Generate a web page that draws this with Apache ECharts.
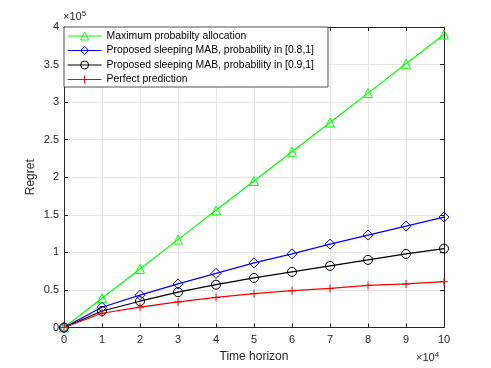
<!DOCTYPE html>
<html><head><meta charset="utf-8">
<script src="https://cdn.jsdelivr.net/npm/echarts@6/dist/echarts.min.js"></script>
<style>html,body{margin:0;padding:0;background:#fff}#c{width:491px;height:368px}</style>
</head><body><div id="c"></div>
<script>
const xValues = [0,1,2,3,4,5,6,7,8,9,10];
const seriesNames = ['Maximum probabilty allocation','Proposed sleeping MAB, probability in [0.8,1]','Proposed sleeping MAB, probability in [0.9,1]','Perfect prediction'];
const maxProb   = [0,0.39,0.78,1.17,1.56,1.95,2.34,2.73,3.12,3.51,3.90];
const mab08     = [0,0.27,0.43,0.58,0.72,0.86,0.98,1.11,1.23,1.35,1.47];
const mab09     = [0,0.22,0.35,0.47,0.57,0.66,0.74,0.82,0.90,0.98,1.05];
const perfect   = [0,0.19,0.27,0.34,0.40,0.45,0.49,0.52,0.56,0.58,0.61];
const yTicks = [0,0.5,1,1.5,2,2.5,3,3.5,4];

const L=64, T=27, W=380, H=300.5;
const axisColor='#262626';
const font='"Liberation Sans", Arial, sans-serif';
function pairs(arr){return xValues.map((x,i)=>[x,arr[i]]);}
function mk(name,data,color,symbol,size){
  return {name,type:'line',data:pairs(data),symbol,symbolSize:size,
    lineStyle:{color,width:1.2},itemStyle:{color:'rgba(255,255,255,0)',borderColor:color,borderWidth:1},
    emphasis:{disabled:true},animation:false,z:3};
}
const chart=echarts.init(document.getElementById('c'),null,{renderer:'canvas'});
const fmtY=v=>{return String(v);};
chart.setOption({
  animation:false,
  backgroundColor:'#fff',
  grid:{left:L,top:T,width:W,height:H,show:false},
  xAxis:[{type:'value',min:0,max:10,interval:1,position:'bottom',
    axisLine:{onZero:false,lineStyle:{color:axisColor,width:1}},
    axisTick:{inside:true,length:4,lineStyle:{color:axisColor}},
    axisLabel:{margin:7,color:axisColor,fontSize:11,fontFamily:font},
    splitLine:{show:true,lineStyle:{color:'#e6e6e6',width:1}},
    name:'Time horizon',nameLocation:'middle',nameGap:23,nameMoveOverlap:false,
    nameTextStyle:{color:axisColor,fontSize:12,fontFamily:font}},
   {type:'value',min:0,max:10,interval:1,position:'top',
    axisLine:{onZero:false,lineStyle:{color:axisColor,width:1}},
    axisTick:{inside:true,length:4,lineStyle:{color:axisColor}},
    axisLabel:{show:false},splitLine:{show:false}}],
  yAxis:[{type:'value',min:0,max:4,interval:0.5,position:'left',
    axisLine:{show:true,onZero:false,lineStyle:{color:axisColor,width:1}},
    axisTick:{show:true,inside:true,length:4,lineStyle:{color:axisColor}},
    axisLabel:{margin:5,color:axisColor,fontSize:11,fontFamily:font,formatter:fmtY},
    splitLine:{show:true,lineStyle:{color:'#e6e6e6',width:1}},
    name:'Regret',nameLocation:'middle',nameGap:27,nameRotate:90,nameMoveOverlap:false,
    nameTextStyle:{color:axisColor,fontSize:12,fontFamily:font}},
   {type:'value',min:0,max:4,interval:0.5,position:'right',
    axisLine:{show:true,onZero:false,lineStyle:{color:axisColor,width:1}},
    axisTick:{show:true,inside:true,length:4,lineStyle:{color:axisColor}},
    axisLabel:{show:false},splitLine:{show:false}}],
  legend:{orient:'vertical',left:67,top:31,padding:0,itemWidth:34,itemHeight:10,itemGap:4.5,
    itemStyle:{borderWidth:1,color:'rgba(255,255,255,0)'},lineStyle:{width:1.2},
    textStyle:{color:'#000',fontSize:10.4,fontFamily:font},
    data:seriesNames,selectedMode:false,z:10},
  graphic:[
    {type:'rect',shape:{x:L,y:T,width:264,height:60},style:{fill:'#fff',stroke:axisColor,lineWidth:0.8},z:5},
    {type:'text',left:63,top:10,style:{text:'{a|×10}{s|5}',rich:{a:{fontSize:11,fontFamily:font,fill:axisColor},s:{fontSize:8,fontFamily:font,fill:axisColor,padding:[0,0,6,0]}}}},
    {type:'text',left:416,top:351,style:{text:'{a|×10}{s|4}',rich:{a:{fontSize:11,fontFamily:font,fill:axisColor},s:{fontSize:8,fontFamily:font,fill:axisColor,padding:[0,0,6,0]}}}}
  ],
  series:[
    mk(seriesNames[0],maxProb,'#00ff00','triangle',9),
    mk(seriesNames[1],mab08,'#0000ff','diamond',10),
    mk(seriesNames[2],mab09,'#000000','circle',9),
    mk(seriesNames[3],perfect,'#ff0000','path://M5,0L5,10M0,5L10,5',8)
  ]
});
</script></body></html>
